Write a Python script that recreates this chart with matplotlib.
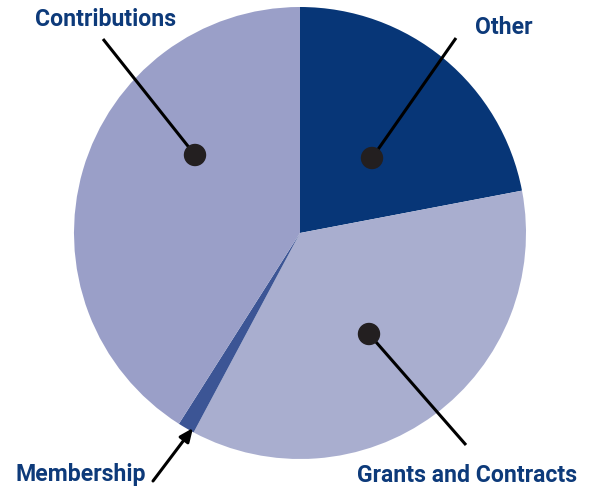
import matplotlib
matplotlib.use("Agg")
import matplotlib.pyplot as plt
from matplotlib.patches import Circle

categories = ["Other", "Grants and Contracts", "Membership", "Contributions"]
values = [22.0, 35.8, 1.2, 41.0]
colors = ["#073677", "#A9AECF", "#3C5595", "#9A9FC8"]

W, H = 591, 492
fig = plt.figure(figsize=(W / 100, H / 100), dpi=100)
ax = fig.add_axes([0, 0, 1, 1])

def Y(y):
    return H - y

cx, cy, r = 300, Y(233), 226
ax.pie(values, colors=colors, startangle=90, counterclock=False,
       center=(cx, cy), radius=r, frame=True,
       wedgeprops=dict(linewidth=0))
ax.set_xlim(0, W)
ax.set_ylim(0, H)
ax.set_aspect("equal")
ax.axis("off")

font = dict(family=["Liberation Sans Narrow", "Roboto", "DejaVu Sans"],
            fontweight="bold", color="#0D3A7A", fontsize=16.6)

# Labels with dot leaders
leaders = [
    ("Contributions", (195, 155), (103, 39), (105.5, 20)),
    ("Other", (372, 158), (456, 38), (504, 27)),
    ("Grants and Contracts", (369, 334), (466, 445), (467, 476)),
]
for text, dot, end, tpos in leaders:
    ax.plot([dot[0], end[0]], [Y(dot[1]), Y(end[1])], color="black", lw=2.2,
            solid_capstyle="butt", zorder=3)
    ax.add_patch(Circle((dot[0], Y(dot[1])), 10.5, color="#231F20", zorder=4))
    ax.text(tpos[0], Y(tpos[1]), text, ha="center", va="center", **font)

# Membership arrow
ax.annotate("", xy=(193, Y(428)), xytext=(153, Y(481)),
            arrowprops=dict(arrowstyle="-|>,head_length=0.8,head_width=0.35",
                            color="black", lw=2.2, shrinkA=0, shrinkB=0),
            zorder=5)
ax.text(81, Y(474), "Membership", ha="center", va="center", **font)

fig.savefig("out.png", dpi=100)
